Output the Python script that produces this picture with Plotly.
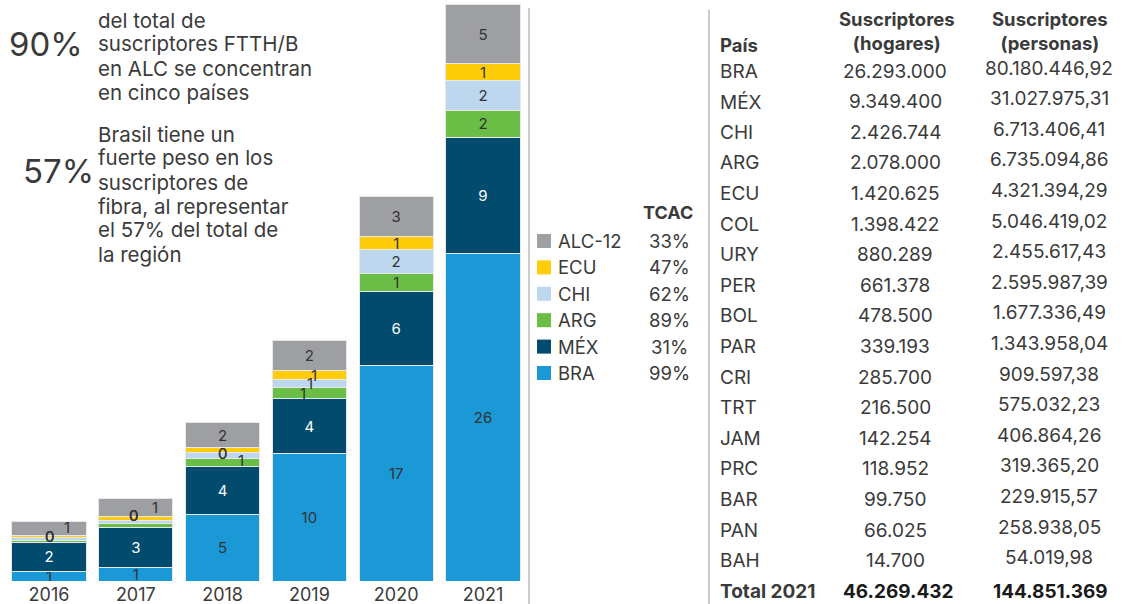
import plotly.graph_objects as go

# ---------------- data ----------------
years = ["2016", "2017", "2018", "2019", "2020", "2021"]
bra = [0.8, 1.1, 5.3, 10.2, 17.3, 26.3]
mex = [2.3, 3.2, 3.9, 4.4, 5.9, 9.3]
arg = [0.15, 0.3, 0.65, 0.9, 1.45, 2.1]
chi = [0.2, 0.25, 0.45, 0.65, 1.9, 2.4]
ecu = [0.2, 0.3, 0.4, 0.7, 1.1, 1.4]
alc = [1.1, 1.45, 2.0, 2.4, 3.2, 4.7]

legend_names = ["ALC-12", "ECU", "CHI", "ARG", "MÉX", "BRA"]
tcac = ["33%", "47%", "62%", "89%", "31%", "99%"]

paises = ["BRA", "MÉX", "CHI", "ARG", "ECU", "COL", "URY", "PER", "BOL", "PAR",
          "CRI", "TRT", "JAM", "PRC", "BAR", "PAN", "BAH"]
hogares = ["26.293.000", "9.349.400", "2.426.744", "2.078.000", "1.420.625",
           "1.398.422", "880.289", "661.378", "478.500", "339.193", "285.700",
           "216.500", "142.254", "118.952", "99.750", "66.025", "14.700"]
personas = ["80.180.446,92", "31.027.975,31", "6.713.406,41", "6.735.094,86",
            "4.321.394,29", "5.046.419,02", "2.455.617,43", "2.595.987,39",
            "1.677.336,49", "1.343.958,04", "909.597,38", "575.032,23",
            "406.864,26", "319.365,20", "229.915,57", "258.938,05", "54.019,98"]
total_label = "Total 2021"
total_hogares = "46.269.432"
total_personas = "144.851.369"

text1 = ["del total de", "suscriptores FTTH/B", "en ALC se concentran", "en cinco países"]
text2 = ["Brasil tiene un", "fuerte peso en los", "suscriptores de",
         "fibra, al representar", "el 57% del total de", "la región"]

# ---------------- style ----------------
W, H = 1123, 604
PLOT_H = 581
FONT = "Inter"
TXT = "#3a3a3a"
colors = {
    "BRA": "#1B98D6",
    "MÉX": "#004B6E",
    "ARG": "#6BBE45",
    "CHI": "#BCD7EE",
    "ECU": "#FFCC09",
    "ALC-12": "#9D9FA2",
}
text_colors = {
    "BRA": "#333333", "MÉX": "#FFFFFF", "ARG": "#333333",
    "CHI": "#333333", "ECU": "#333333", "ALC-12": "#333333",
}
# label nudges (px) for thin segments, like the staggered labels of the original
label_nudge = {
    ("ALC-12", 0): (18, 1), ("ECU", 0): (0, 0), ("CHI", 0): (0, 2.5), ("ARG", 0): (0, 4.5),
    ("ALC-12", 1): (19, 0), ("ECU", 1): (-2, 3), ("CHI", 1): (-2, 6.5), ("ARG", 1): (-2, 10),
    ("ECU", 2): (0, -3.5), ("CHI", 2): (0, 2), ("ARG", 2): (18, 2),
    ("ECU", 3): (5, 0), ("CHI", 3): (1, 0), ("ARG", 3): (-6, 0),
}


def px(x):
    return x / W


def py(y):
    return (PLOT_H - y) / PLOT_H


def note(x, y, text, size, xanchor="left", yanchor="middle", color=TXT, align="left"):
    return dict(x=px(x), y=py(y), xref="paper", yref="paper", xanchor=xanchor,
                yanchor=yanchor, align=align, text=text, showarrow=False,
                font=dict(family=FONT, size=size, color=color))


fig = go.Figure()
ann = []
shapes = []
series = [("BRA", bra), ("MÉX", mex), ("ARG", arg), ("CHI", chi), ("ECU", ecu), ("ALC-12", alc)]
base = [0.0] * len(years)
for name, vals in series:
    texts = []
    for i, v in enumerate(vals):
        lab = f"{v:.0f}"
        if (name, i) in label_nudge:
            dx, dy = label_nudge[(name, i)]
            texts.append("")
            ann.append(dict(x=i, y=base[i] + v / 2, xref="x", yref="y",
                            xshift=dx, yshift=dy, text=lab, showarrow=False,
                            xanchor="center", yanchor="middle",
                            font=dict(family=FONT, size=15, color=text_colors[name])))
        else:
            texts.append(lab)
    fig.add_trace(go.Bar(
        x=years, y=vals, name=name, text=texts,
        marker=dict(color=colors[name], line=dict(color="#E8E8E8", width=1)),
        textposition="inside", insidetextanchor="middle", textangle=0,
        textfont=dict(family=FONT, size=15, color=text_colors[name]),
        showlegend=False, hoverinfo="skip",
    ))
    base = [b + v for b, v in zip(base, vals)]

# left text
ann.append(note(7, 44, "90%", 33))
for i, line in enumerate(text1):
    ann.append(note(96, 20 + i * 24, line, 20.5))
ann.append(note(21, 171, "57%", 33))
for i, line in enumerate(text2):
    ann.append(note(96, 134 + i * 24, line, 20.5))

# legend with TCAC
ann.append(note(668, 213, "<b>TCAC</b>", 18, xanchor="center"))
for i, (nm, t) in enumerate(zip(legend_names, tcac)):
    yy = 241 + i * 26.4
    shapes.append(dict(type="rect", xref="paper", yref="paper",
                       x0=px(537), x1=px(551), y0=py(yy - 7), y1=py(yy + 7),
                       fillcolor=colors[nm], line=dict(width=0)))
    ann.append(note(556, yy, nm, 18.5))
    ann.append(note(669, yy, t, 18.5, xanchor="center"))

# table
ann.append(note(718, 45, "<b>País</b>", 18.5))
ann.append(note(897, 31, "<b>Suscriptores<br>(hogares)</b>", 18.5, xanchor="center", align="center"))
ann.append(note(1050, 31, "<b>Suscriptores<br>(personas)</b>", 18.5, xanchor="center", align="center"))
step = 30.6
for i, (p, h, pe) in enumerate(zip(paises, hogares, personas)):
    yy = 71 + i * step
    ann.append(note(718, yy, p, 19))
    ann.append(note(895, yy, h, 19, xanchor="center"))
    ann.append(note(1049, yy - 3, pe, 19, xanchor="center"))
yy = 71 + len(paises) * step
ann.append(note(718, yy, "<b>" + total_label + "</b>", 19))
ann.append(note(898, yy, "<b>" + total_hogares + "</b>", 19, xanchor="center", color="#1a1a1a"))
ann.append(note(1050, yy, "<b>" + total_personas + "</b>", 19, xanchor="center", color="#1a1a1a"))

# separators
for xx, y0 in [(529, 8), (709, 10)]:
    shapes.append(dict(type="line", xref="paper", yref="paper",
                       x0=px(xx), x1=px(xx), y0=py(y0), y1=py(604),
                       line=dict(color="#A8A8A8", width=1.2)))

fig.update_layout(
    width=W, height=H,
    margin=dict(l=0, r=0, t=0, b=H - PLOT_H, autoexpand=False),
    barmode="stack", bargap=0.147,
    plot_bgcolor="white", paper_bgcolor="white",
    uniformtext=dict(minsize=15, mode="show"),
    xaxis=dict(type="category", range=[-0.5, len(years) - 0.5],
               domain=[px(5.6), px(526.4)], showgrid=False, showline=False, zeroline=False,
               ticks="", automargin=False, ticklabelstandoff=1,
               tickfont=dict(family=FONT, size=18, color=TXT), fixedrange=True),
    yaxis=dict(range=[0, PLOT_H / 12.47], showgrid=False, showline=False, zeroline=False,
               showticklabels=False, automargin=False, fixedrange=True),
    annotations=ann, shapes=shapes,
)

fig.write_html("out.html", config={"displayModeBar": False},
               post_script="document.body.style.margin='0';document.body.style.overflow='hidden';")
